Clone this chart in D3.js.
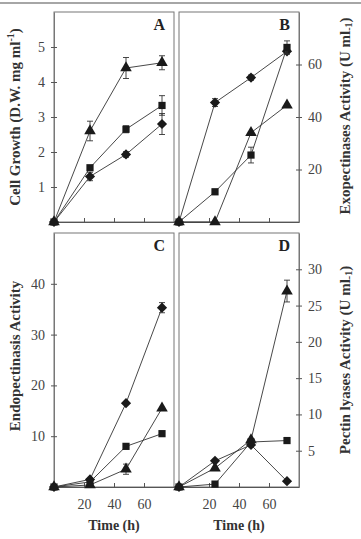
<!DOCTYPE html>
<html>
<head>
<meta charset="utf-8">
<script src="https://cdn.jsdelivr.net/npm/d3@7"></script>
<style>
  body { margin: 0; background: #fff; }
  svg, svg text { font-family: "Liberation Serif", "DejaVu Serif", serif; }
</style>
</head>
<body>
<div id="chart"></div>
<script>
// sampling times (h)
var times = [0, 24, 48, 72];
var xTicks = [20, 40, 60];

// A - cell growth
var cellTri = [0, 2.6, 4.4, 4.55], cellTriErr = [0, 0.28, 0.3, 0.2];
var cellSq = [0, 1.55, 2.65, 3.33], cellSqErr = [0, 0, 0.1, 0.28];
var cellDia = [0, 1.3, 1.93, 2.8], cellDiaErr = [0, 0.12, 0.08, 0.3];
// B - exopectinases
var exoDia = [0, 45.5, 55, 65], exoDiaErr = [0, 1.5, 1, 1];
var exoSq = [0, 11.5, 25.5, 66.5], exoSqErr = [0, 1, 3, 2.5];
var exoTri = [0, 0, 34, 44.5], exoTriErr = [0, 0, 0, 0];
// C - endopectinasis
var endoDia = [0, 1.5, 16.5, 35.3], endoDiaErr = [0, 0, 0, 1];
var endoTri = [0, 0.4, 3.5, 15.5], endoTriErr = [0, 0, 1, 0];
var endoSq = [0, 1, 8, 10.5], endoSqErr = [0, 0, 0, 0];
// D - pectin lyases
var lyaTri = [0, 2.6, 6.5, 27], lyaTriErr = [0, 0, 0, 1.5];
var lyaDia = [0, 3.6, 5.8, 0.8], lyaDiaErr = [0, 0, 0, 0];
var lyaSq = [0, 0.4, 6.2, 6.4], lyaSqErr = [0, 0, 0, 0];

var W = 361, H = 539;
var svg = d3.select("#chart").append("svg").attr("width", W).attr("height", H);

// thin frame line on top
svg.append("line").attr("x1", 0).attr("x2", W).attr("y1", 3).attr("y2", 3)
  .attr("stroke", "#888").attr("stroke-width", 1.5);

var cols = [[54, 174], [179, 299]];
var rows = [[12, 222], [233, 487]];

var panels = [
  { name: "A", col: 0, row: 0, max: 6, ticks: [1, 2, 3, 4, 5], side: "left",
    series: [["tri", cellTri, cellTriErr], ["sq", cellSq, cellSqErr], ["dia", cellDia, cellDiaErr]] },
  { name: "B", col: 1, row: 0, max: 80, ticks: [20, 40, 60], side: "right",
    series: [["dia", exoDia, exoDiaErr], ["sq", exoSq, exoSqErr], ["tri", exoTri, exoTriErr]] },
  { name: "C", col: 0, row: 1, max: 50, ticks: [10, 20, 30, 40], side: "left",
    series: [["dia", endoDia, endoDiaErr], ["tri", endoTri, endoTriErr], ["sq", endoSq, endoSqErr]] },
  { name: "D", col: 1, row: 1, max: 35, ticks: [5, 10, 15, 20, 25, 30], side: "right",
    series: [["tri", lyaTri, lyaTriErr], ["dia", lyaDia, lyaDiaErr], ["sq", lyaSq, lyaSqErr]] }
];

var symbols = {
  tri: d3.symbol().type(d3.symbolTriangle).size(58),
  sq: d3.symbol().type(d3.symbolSquare).size(52),
  dia: d3.symbol().type(d3.symbolSquare).size(52)
};

panels.forEach(function(p) {
  var x = d3.scaleLinear().domain([0, 80]).range(cols[p.col]);
  var y = d3.scaleLinear().domain([0, p.max]).range([rows[p.row][1], rows[p.row][0]]);
  var g = svg.append("g").attr("class", "panel");

  // frame
  g.append("rect")
    .attr("x", x.range()[0]).attr("y", y.range()[1])
    .attr("width", x.range()[1] - x.range()[0])
    .attr("height", y.range()[0] - y.range()[1])
    .attr("fill", "none").attr("stroke", "#777").attr("stroke-width", 1);

  // x axis, ticks inward
  var xa = g.append("g").attr("transform", "translate(0," + y.range()[0] + ")")
    .call(d3.axisBottom(x).tickValues(xTicks).tickFormat(d3.format("d"))
      .tickSizeInner(-4).tickSizeOuter(0).tickPadding(p.row == 1 ? 12 : 0));
  xa.attr("font-family", null);
  xa.select(".domain").attr("stroke", "#555");
  xa.selectAll(".tick line").attr("stroke", "#555");
  xa.selectAll("text").attr("font-size", 14).attr("fill", "#444")
    .style("display", p.row == 1 ? null : "none");

  // y axis, ticks across the frame
  var yx = p.side == "left" ? x.range()[0] : x.range()[1];
  var axis = p.side == "left" ? d3.axisLeft(y) : d3.axisRight(y);
  var ya = g.append("g").attr("transform", "translate(" + yx + ",0)")
    .call(axis.tickValues(p.ticks).tickFormat(d3.format("d"))
      .tickSizeOuter(0).tickSizeInner(3).tickPadding(6));
  ya.attr("font-family", null);
  ya.select(".domain").attr("stroke", "#777");
  ya.selectAll(".tick line").attr("stroke", "#555")
    .attr("x1", p.side == "left" ? 3 : -3);
  ya.selectAll("text").attr("font-size", 14).attr("fill", "#444");

  // panel letter
  g.append("text").attr("x", x.range()[1] - 9).attr("y", y.range()[1] + 18)
    .attr("text-anchor", "end").attr("font-size", 16).attr("font-weight", "bold")
    .attr("fill", "#222").text(p.name);

  p.series.forEach(function(s) {
    var pts = times.map(function(t, i) { return { t: t, v: s[1][i], e: s[2][i] }; });
    g.append("path").datum(pts)
      .attr("fill", "none").attr("stroke", "#333").attr("stroke-width", 0.9)
      .attr("d", d3.line().x(function(d) { return x(d.t); }).y(function(d) { return y(d.v); }));
    var eb = g.selectAll(null).data(pts.filter(function(d) { return d.e > 0; })).enter().append("g")
      .attr("stroke", "#333").attr("stroke-width", 0.9);
    eb.append("line")
      .attr("x1", function(d) { return x(d.t); }).attr("x2", function(d) { return x(d.t); })
      .attr("y1", function(d) { return y(d.v - d.e); }).attr("y2", function(d) { return y(d.v + d.e); });
    [1, -1].forEach(function(sg) {
      eb.append("line")
        .attr("x1", function(d) { return x(d.t) - 3; }).attr("x2", function(d) { return x(d.t) + 3; })
        .attr("y1", function(d) { return y(d.v + sg * d.e); }).attr("y2", function(d) { return y(d.v + sg * d.e); });
    });
    g.selectAll(null).data(pts).enter().append("path")
      .attr("d", symbols[s[0]])
      .attr("fill", "#1a1a1a")
      .attr("transform", function(d) {
        return "translate(" + x(d.t) + "," + y(d.v) + ")" + (s[0] == "dia" ? " rotate(45)" : "");
      });
  });
});

// axis titles
function vlabel(cx, cy, main, sup, mode) {
  var t = svg.append("text")
    .attr("transform", "translate(" + cx + "," + cy + ") rotate(-90)")
    .attr("text-anchor", "middle").attr("font-size", 15).attr("font-weight", "bold")
    .attr("fill", "#333").text(main);
  if (sup) {
    t.append("tspan").attr("font-size", 10)
      .attr("dy", mode == "sup" ? -6 : 2).text(sup);
    t.append("tspan").attr("dy", mode == "sup" ? 6 : -2).text(")");
  }
}
vlabel(20, 117, "Cell Growth (D.W. mg ml", "-1", "sup");
vlabel(350, 116, "Exopectinases Activity (U ml", "-1", "sub");
vlabel(20, 356, "Endopectinasis Activity");
vlabel(350, 360, "Pectin lyases Activity (U ml", "-1", "sub");

[0, 1].forEach(function(c) {
  svg.append("text").attr("x", (cols[c][0] + cols[c][1]) / 2).attr("y", 530)
    .attr("text-anchor", "middle").attr("font-size", 14).attr("font-weight", "bold")
    .attr("fill", "#333").text("Time (h)");
});
</script>
</body>
</html>
